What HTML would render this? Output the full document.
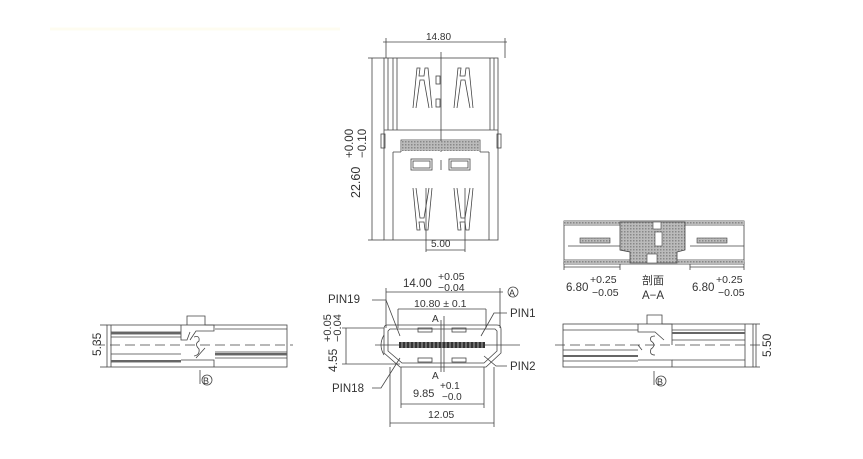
<!DOCTYPE html>
<html><head><meta charset="utf-8"><style>
html,body{margin:0;padding:0;background:#fff;}
svg{display:block}
text{font-family:"Liberation Sans","Noto Sans CJK SC",sans-serif;fill:#333;}
</style></head><body>
<svg width="863" height="459" viewBox="0 0 863 459" xmlns="http://www.w3.org/2000/svg">
<defs>
<pattern id="h" width="3" height="3" patternUnits="userSpaceOnUse"><rect width="3" height="3" fill="#bbb"/><rect width="1.5" height="1.5" fill="#888"/></pattern>
</defs>
<line x1="50" y1="29" x2="340" y2="29" stroke="#fefcf0" stroke-width="3"/>
<g stroke="#444" stroke-width="0.8" fill="none">
<!-- TOP VIEW -->
<line x1="383" y1="42" x2="507" y2="42"/>
<line x1="386" y1="38" x2="386" y2="58"/><line x1="505" y1="38" x2="505" y2="58"/>
<line x1="372" y1="58" x2="372" y2="240"/>
<line x1="368" y1="58" x2="384" y2="58"/>
<line x1="368" y1="240" x2="384" y2="240"/>
<rect x="384" y="58" width="114" height="182"/>
<line x1="388" y1="58" x2="388" y2="130"/><line x1="393" y1="58" x2="393" y2="130"/><line x1="397" y1="58" x2="397" y2="130"/>
<line x1="490" y1="58" x2="490" y2="130"/><line x1="494" y1="58" x2="494" y2="130"/>
<line x1="384" y1="130" x2="498" y2="130"/>
<rect x="381" y="134" width="4" height="14"/><rect x="497" y="134" width="4" height="14"/>
<path d="M401 152 L401 140 L480 140 L480 152 M393 152 L393 162 M489 152 L489 162 M393 152 L401 152 M480 152 L489 152"/>
<line x1="393" y1="162" x2="393" y2="240"/><line x1="489" y1="162" x2="489" y2="240"/>
<line x1="441" y1="52" x2="441" y2="152"/>
<path d="M413 108 L417 68 L420 68 L419 76 L424 76 L425 68 L428 68 L432 108 M416 108 L420 80 L424 80 L429 108"/>
<path d="M454 108 L458 68 L461 68 L460 76 L465 76 L466 68 L469 68 L473 108 M457 108 L461 80 L465 80 L470 108"/>
<rect x="436" y="76" width="4" height="8"/><rect x="436" y="99" width="4" height="8"/>
<rect x="411" y="159" width="21" height="11"/><rect x="413" y="161" width="17" height="7"/>
<rect x="449" y="159" width="21" height="11"/><rect x="451" y="161" width="17" height="7"/>
<line x1="441" y1="160" x2="441" y2="170"/>
<path d="M413 188 L417 230 L420 230 L419 222 L424 222 L425 230 L428 230 L432 188 M416 188 L420 218 L424 218 L429 188"/>
<path d="M454 188 L458 230 L461 230 L460 222 L465 222 L466 230 L469 230 L473 188 M457 188 L461 218 L465 218 L470 188"/>
<line x1="426" y1="188" x2="426" y2="252"/><line x1="465" y1="188" x2="465" y2="252"/>
<line x1="426" y1="250" x2="465" y2="250"/>
</g>
<rect x="402" y="141" width="77" height="10" fill="url(#h)"/>
<text x="426" y="40" font-size="10">14.80</text>
<text x="431" y="247" font-size="10">5.00</text>
<g transform="translate(356,150) rotate(-90)"><text x="-48" y="4" font-size="12.5">22.60</text><text x="-8" y="-3" font-size="11.5">+0.00</text><text x="-8" y="10" font-size="11.5">−0.10</text></g>

<!-- FRONT VIEW -->
<g stroke="#444" stroke-width="0.8" fill="none">
<line x1="386" y1="292" x2="503" y2="292"/><line x1="386" y1="288" x2="386" y2="328"/><line x1="500" y1="288" x2="500" y2="328"/>
<circle cx="513" cy="292" r="5"/>
<line x1="398" y1="309" x2="486" y2="309"/><line x1="398" y1="309" x2="398" y2="328"/><line x1="486" y1="309" x2="486" y2="328"/>
<path d="M387 325 L497 325 Q501 325 501 329 L501 353 L486 367 L400 367 L384 353 L384 329 Q384 325 387 325 Z"/>
<path d="M390 329 L495 329 L497 331 L497 351 L484 363 L402 363 L388 351 L388 331 Z"/>
<path d="M384 335 Q378 345 384 355"/>
<line x1="342" y1="328" x2="384" y2="328"/><line x1="342" y1="364" x2="400" y2="364"/>
<line x1="346" y1="328" x2="346" y2="364"/>
<line x1="375" y1="345" x2="520" y2="345"/>
<line x1="444" y1="316" x2="444" y2="372"/><line x1="441" y1="320" x2="441" y2="372"/>
<rect x="418" y="328" width="14" height="4"/><rect x="452" y="328" width="14" height="4"/>
<rect x="418" y="358" width="14" height="4"/><rect x="452" y="358" width="14" height="4"/>
<path d="M372 300 L386 300 L400 336"/>
<path d="M507 313 L494 313 L481 336"/>
<path d="M507 366 L496 366 L484 356"/>
<path d="M372 388 L381 388 L400 358"/>
<line x1="401" y1="404" x2="484" y2="404"/><line x1="401" y1="367" x2="401" y2="408"/><line x1="484" y1="367" x2="484" y2="408"/>
<line x1="390" y1="423" x2="494" y2="423"/><line x1="390" y1="367" x2="390" y2="427"/><line x1="494" y1="367" x2="494" y2="427"/>
</g>
<rect x="399" y="342" width="86" height="6" fill="#333"/>
<g stroke="#ddd" stroke-width="0.7"><path d="M402 342v6M406 342v6M410 342v6M414 342v6M418 342v6M422 342v6M426 342v6M430 342v6M434 342v6M438 342v6M442 342v6M446 342v6M450 342v6M454 342v6M458 342v6M462 342v6M466 342v6M470 342v6M474 342v6M478 342v6M482 342v6"/></g>
<text x="509" y="296" font-size="9">A</text>
<text x="403" y="287" font-size="11.5">14.00</text><text x="438" y="280" font-size="10.5">+0.05</text><text x="438" y="291" font-size="10.5">−0.04</text>
<text x="414" y="307" font-size="10.5">10.80 ± 0.1</text>
<text x="328" y="303" font-size="11.5">PIN19</text>
<text x="510" y="317" font-size="11.5">PIN1</text>
<text x="510" y="370" font-size="11.5">PIN2</text>
<text x="332" y="392" font-size="11.5">PIN18</text>
<text x="432" y="322" font-size="10">A</text><text x="432" y="379" font-size="10">A</text>
<text x="413" y="397" font-size="11">9.85</text><text x="440" y="389" font-size="10">+0.1</text><text x="442" y="400" font-size="10">−0.0</text>
<text x="428" y="418" font-size="10.5">12.05</text>
<g transform="translate(333,346) rotate(-90)"><text x="-26" y="4" font-size="12">4.55</text><text x="4" y="-2" font-size="11">+0.05</text><text x="4" y="8" font-size="11">−0.04</text></g>

<!-- SECTION A-A -->
<g stroke="#444" stroke-width="0.8" fill="none">
<rect x="564" y="221" width="180" height="43"/>
<line x1="564" y1="225" x2="744" y2="225"/><line x1="564" y1="260" x2="744" y2="260"/>
<line x1="568" y1="246" x2="620" y2="246"/><line x1="690" y1="246" x2="744" y2="246"/>
<line x1="564" y1="267" x2="620" y2="267"/><line x1="690" y1="267" x2="744" y2="267"/>
<line x1="564" y1="262" x2="564" y2="270"/><line x1="620" y1="262" x2="620" y2="270"/>
<line x1="690" y1="262" x2="690" y2="270"/><line x1="744" y1="262" x2="744" y2="270"/>
</g>
<rect x="564" y="221" width="180" height="4" fill="url(#h)"/>
<rect x="564" y="260" width="180" height="4" fill="url(#h)"/>
<path d="M620 222 L685 222 L685 250 L677 252 L677 263 L630 263 L630 252 L620 250 Z" fill="url(#h)" stroke="#444" stroke-width="0.8"/>
<rect x="653" y="222" width="8" height="7" fill="#fff" stroke="#444" stroke-width="0.6"/>
<rect x="655" y="232" width="7" height="14" fill="#fff" stroke="#444" stroke-width="0.6"/>
<rect x="647" y="254" width="10" height="9" fill="#fff" stroke="#444" stroke-width="0.6"/>
<rect x="580" y="238" width="30" height="5" fill="url(#h)" stroke="#444" stroke-width="0.6"/>
<rect x="697" y="238" width="30" height="5" fill="url(#h)" stroke="#444" stroke-width="0.6"/>
<text x="566" y="291" font-size="11.5">6.80</text><text x="590" y="283" font-size="10.5">+0.25</text><text x="592" y="296" font-size="10.5">−0.05</text>
<text x="692" y="291" font-size="11.5">6.80</text><text x="716" y="283" font-size="10.5">+0.25</text><text x="718" y="296" font-size="10.5">−0.05</text>
<text x="642" y="284" font-size="11">剖面</text><text x="642" y="299" font-size="11.5">A−A</text>

<!-- LEFT SIDE VIEW -->
<g stroke="#444" stroke-width="0.8" fill="none">
<rect x="107" y="325" width="180" height="42"/>
<line x1="111" y1="325" x2="111" y2="367"/>
<line x1="111" y1="332" x2="181" y2="332"/><line x1="111" y1="334" x2="181" y2="334"/><line x1="111" y1="337" x2="181" y2="337"/>
<line x1="111" y1="354" x2="181" y2="354"/><line x1="111" y1="362" x2="181" y2="362"/>
<line x1="215" y1="329" x2="287" y2="329"/><line x1="215" y1="352" x2="287" y2="352"/><line x1="215" y1="355" x2="287" y2="355"/><line x1="215" y1="358" x2="287" y2="358"/>
<path d="M187 325 L187 316 L205 316 L205 325 L214 325 L214 331 L196 331 L190 340 M181 325 L181 340 L187 340 L190 332"/>
<path d="M181 360 L214 360 L214 367 M196 358 L205 348"/>
<path d="M194 337 Q200 335 199 341 Q194 344 199 349 Q200 355 194 356"/>
<line x1="95" y1="345" x2="293" y2="345" stroke-dasharray="10 5"/>
<line x1="100" y1="325" x2="107" y2="325"/><line x1="100" y1="367" x2="107" y2="367"/>
<circle cx="207" cy="380" r="5"/><line x1="200" y1="370" x2="200" y2="384"/>
</g>
<rect x="111" y="332" width="70" height="2" fill="#666"/><rect x="111" y="360" width="70" height="2" fill="#666"/>
<rect x="215" y="353" width="72" height="2" fill="#666"/>
<text x="203" y="384" font-size="9">B</text>
<text transform="translate(101,356) rotate(-90)" font-size="12">5.35</text>

<!-- RIGHT SIDE VIEW -->
<g stroke="#444" stroke-width="0.8" fill="none">
<rect x="563" y="324" width="190" height="43"/>
<line x1="563" y1="330" x2="638" y2="330"/><line x1="563" y1="350" x2="638" y2="350"/><line x1="563" y1="356" x2="638" y2="356"/><line x1="563" y1="361" x2="638" y2="361"/>
<line x1="672" y1="330" x2="745" y2="330"/><line x1="672" y1="333" x2="745" y2="333"/><line x1="672" y1="340" x2="745" y2="340"/><line x1="672" y1="360" x2="745" y2="360"/>
<line x1="745" y1="324" x2="745" y2="367"/>
<path d="M647 324 L647 315 L662 315 L662 324 L672 324 L672 345 M638 324 L638 332 L655 332 L664 340"/>
<path d="M638 345 L642 350 M638 360 L672 360 L672 367"/>
<path d="M655 336 Q649 336 651 341 Q657 345 651 349 Q649 355 655 355"/>
<line x1="555" y1="345" x2="760" y2="345" stroke-dasharray="10 5"/>
<line x1="753" y1="324" x2="760" y2="324"/><line x1="753" y1="367" x2="760" y2="367"/>
<line x1="756" y1="324" x2="756" y2="367"/>
<circle cx="661" cy="381" r="5"/><line x1="654" y1="371" x2="654" y2="385"/>
</g>
<rect x="563" y="355" width="75" height="2" fill="#666"/><rect x="672" y="332" width="73" height="2" fill="#666"/>
<text x="657" y="385" font-size="9">B</text>
<text transform="translate(771,357) rotate(-90)" font-size="12">5.50</text>
</svg>
</body></html>
